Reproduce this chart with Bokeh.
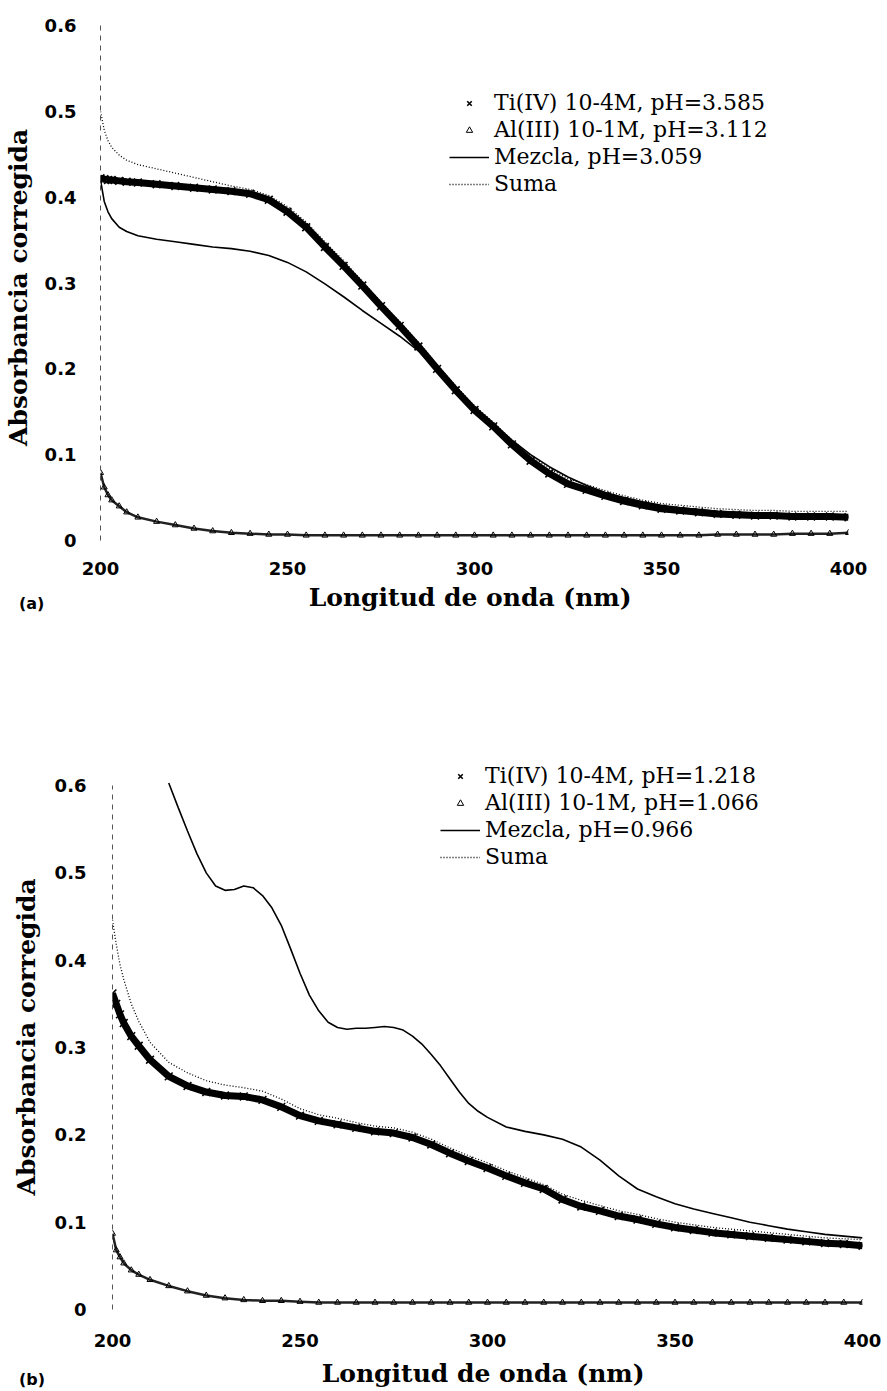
from bokeh.plotting import figure
from bokeh.models import Legend, LegendItem, FixedTicker, Range1d, Div
from bokeh.embed import file_html
from bokeh.resources import INLINE

# ---------------- data ----------------
wavelength = [200, 201, 202, 203, 205, 207, 210, 215, 220, 225, 230, 235, 240, 245, 250,
              255, 260, 265, 270, 275, 280, 285, 290, 295, 300, 305, 310, 315, 320, 325,
              330, 335, 340, 345, 350, 355, 360, 365, 370, 375, 380, 385, 390, 395, 400]

# panel (a)
ti_a = [0.422, 0.421, 0.420, 0.420, 0.419, 0.418, 0.417, 0.415, 0.413, 0.411, 0.409, 0.407,
        0.404, 0.397, 0.383, 0.365, 0.342, 0.320, 0.297, 0.273, 0.250, 0.226, 0.200, 0.175,
        0.152, 0.133, 0.112, 0.093, 0.078, 0.066, 0.059, 0.052, 0.046, 0.041, 0.037, 0.035,
        0.033, 0.031, 0.030, 0.029, 0.029, 0.028, 0.028, 0.028, 0.027]
al_a = [0.079, 0.062, 0.053, 0.047, 0.040, 0.033, 0.027, 0.022, 0.018, 0.014, 0.011, 0.009,
        0.008, 0.007, 0.007, 0.006, 0.006, 0.006, 0.006, 0.006, 0.006, 0.006, 0.006, 0.006,
        0.006, 0.006, 0.006, 0.006, 0.006, 0.006, 0.006, 0.006, 0.006, 0.006, 0.006, 0.006,
        0.006, 0.007, 0.007, 0.007, 0.007, 0.008, 0.008, 0.008, 0.009]
mezcla_a = [0.420, 0.395, 0.383, 0.375, 0.365, 0.360, 0.355, 0.351, 0.348, 0.345, 0.342, 0.340,
            0.337, 0.332, 0.324, 0.313, 0.299, 0.284, 0.268, 0.253, 0.238, 0.221, 0.198, 0.176,
            0.155, 0.136, 0.117, 0.100, 0.086, 0.074, 0.064, 0.056, 0.050, 0.045, 0.041, 0.038,
            0.036, 0.034, 0.033, 0.032, 0.031, 0.030, 0.030, 0.029, 0.029]
suma_a = [0.500, 0.478, 0.466, 0.458, 0.449, 0.443, 0.438, 0.433, 0.428, 0.423, 0.418, 0.413,
          0.409, 0.402, 0.389, 0.371, 0.348, 0.326, 0.302, 0.278, 0.255, 0.231, 0.205, 0.180,
          0.157, 0.138, 0.117, 0.099, 0.084, 0.072, 0.065, 0.058, 0.052, 0.047, 0.043, 0.041,
          0.039, 0.037, 0.036, 0.035, 0.035, 0.034, 0.034, 0.034, 0.034]
labels_a = ["Ti(IV) 10-4M, pH=3.585", "Al(III) 10-1M, pH=3.112", "Mezcla, pH=3.059", "Suma"]

# panel (b)
ti_b = [0.362, 0.350, 0.338, 0.328, 0.313, 0.302, 0.286, 0.267, 0.256, 0.249, 0.245, 0.244,
        0.240, 0.232, 0.222, 0.216, 0.212, 0.208, 0.204, 0.202, 0.197, 0.189, 0.179, 0.170,
        0.162, 0.153, 0.145, 0.138, 0.126, 0.118, 0.113, 0.107, 0.103, 0.098, 0.094, 0.091,
        0.088, 0.086, 0.084, 0.082, 0.080, 0.078, 0.076, 0.075, 0.073]
al_b = [0.087, 0.068, 0.060, 0.053, 0.045, 0.040, 0.034, 0.027, 0.021, 0.016, 0.013, 0.011,
        0.010, 0.010, 0.009, 0.008, 0.008, 0.008, 0.008, 0.008, 0.008, 0.008, 0.008, 0.008,
        0.008, 0.008, 0.008, 0.008, 0.008, 0.008, 0.008, 0.008, 0.008, 0.008, 0.008, 0.008,
        0.008, 0.008, 0.008, 0.008, 0.008, 0.008, 0.008, 0.008, 0.008]
suma_b = [0.446, 0.418, 0.395, 0.378, 0.350, 0.330, 0.306, 0.283, 0.271, 0.262, 0.257, 0.254,
          0.250, 0.241, 0.230, 0.223, 0.219, 0.214, 0.210, 0.208, 0.203, 0.195, 0.185, 0.176,
          0.168, 0.159, 0.151, 0.143, 0.132, 0.125, 0.119, 0.113, 0.109, 0.104, 0.100, 0.097,
          0.094, 0.092, 0.090, 0.088, 0.086, 0.084, 0.082, 0.081, 0.080]
mezcla_b_wavelength = [215, 217.5, 220, 222.5, 225, 227.5, 230, 232.5, 235, 237.5, 240, 242.5,
                       245, 247.5, 250, 252.5, 255, 257.5, 260, 262.5, 265, 267.5, 270, 272.5,
                       275, 277.5, 280, 282.5, 285, 287.5, 290, 292.5, 295, 297.5, 300, 305,
                       310, 315, 320, 325, 330, 335, 340, 345, 350, 355, 360, 365, 370, 375,
                       380, 385, 390, 395, 400]
mezcla_b = [0.603, 0.575, 0.548, 0.522, 0.500, 0.485, 0.480, 0.481, 0.485, 0.483, 0.474, 0.460,
            0.440, 0.413, 0.385, 0.360, 0.342, 0.329, 0.323, 0.321, 0.322, 0.322, 0.323, 0.324,
            0.323, 0.320, 0.313, 0.304, 0.292, 0.279, 0.264, 0.249, 0.236, 0.227, 0.220, 0.209,
            0.204, 0.200, 0.195, 0.186, 0.171, 0.153, 0.138, 0.129, 0.121, 0.115, 0.110, 0.105,
            0.100, 0.096, 0.092, 0.089, 0.086, 0.084, 0.082]
labels_b = ["Ti(IV) 10-4M, pH=1.218", "Al(III) 10-1M, pH=1.066", "Mezcla, pH=0.966", "Suma"]

x_ticks = [200, 250, 300, 350, 400]
y_ticks = [0, 0.1, 0.2, 0.3, 0.4, 0.5, 0.6]
y_tick_labels = ["0", "0.1", "0.2", "0.3", "0.4", "0.5", "0.6"]
x_title = "Longitud de onda  (nm)"
y_title = "Absorbancia  corregida"
panel_tags = ["(a)", "(b)"]

SERIF = "DejaVu Serif"
SANS = "DejaVu Sans"


def make_panel(ti, al, mez_wl, mez, suma, labels, g):
    p = figure(width=887, height=g["height"], output_backend="svg", toolbar_location=None,
               x_range=Range1d(200, 400), y_range=Range1d(0, g["ytop"]),
               min_border_left=g["left"], min_border_right=g["right"],
               min_border_top=g["top"], min_border_bottom=g["bottom"])
    p.outline_line_color = None
    p.grid.visible = False
    p.background_fill_color = "white"

    # Ti band: thick line with dense x markers
    p.line(wavelength, ti, line_color="black", line_width=7)
    r_ti = p.scatter(wavelength, ti, marker="x", size=11, line_color="black", line_width=1.6)
    # Al band
    p.line(wavelength, al, line_color="#222222", line_width=2.5)
    r_al = p.scatter(wavelength, al, marker="triangle", size=6, line_color="black",
                     fill_alpha=0, line_width=1)
    r_mez = p.line(mez_wl, mez, line_color="black", line_width=1.6)
    r_suma = p.line(wavelength, suma, line_color="black", line_width=1.3, line_dash="1 2")

    legend = Legend(items=[LegendItem(label=labels[0], renderers=[r_ti]),
                           LegendItem(label=labels[1], renderers=[r_al]),
                           LegendItem(label=labels[2], renderers=[r_mez]),
                           LegendItem(label=labels[3], renderers=[r_suma])],
                    location=g["legend"], orientation="vertical", padding=0, margin=0,
                    spacing=0, glyph_width=40, glyph_height=16, label_height=27,
                    label_standoff=5, label_text_font=SERIF, label_text_font_size="22px",
                    label_text_color="black",
                    border_line_color=None, background_fill_alpha=0)
    p.add_layout(legend)

    xa = p.xaxis[0]
    xa.ticker = FixedTicker(ticks=x_ticks)
    xa.axis_line_color = None
    xa.major_tick_line_color = None
    xa.minor_tick_line_color = None
    xa.major_label_text_font = SANS
    xa.major_label_text_font_style = "bold"
    xa.major_label_text_font_size = "18px"
    xa.major_label_text_color = "black"
    xa.major_label_standoff = g["xstand"]
    xa.axis_label = x_title
    xa.axis_label_text_font = SERIF
    xa.axis_label_text_font_style = "bold"
    xa.axis_label_text_font_size = "25px"
    xa.axis_label_text_color = "black"
    xa.axis_label_standoff = g["xlstand"]

    ya = p.yaxis[0]
    ya.ticker = FixedTicker(ticks=y_ticks)
    ya.major_label_overrides = {t: s for t, s in zip(y_ticks, y_tick_labels)}
    ya.bounds = (0, 0.6)
    ya.axis_line_color = "#555555"
    ya.axis_line_dash = "5 5"
    ya.axis_line_width = 1
    ya.major_tick_line_color = None
    ya.minor_tick_line_color = None
    ya.major_label_text_font = SANS
    ya.major_label_text_font_style = "bold"
    ya.major_label_text_font_size = "18px"
    ya.major_label_text_color = "black"
    ya.major_label_standoff = g["ystand"]
    ya.axis_label = y_title
    ya.axis_label_text_font = SERIF
    ya.axis_label_text_font_style = "bold"
    ya.axis_label_text_font_size = "25px"
    ya.axis_label_text_color = "black"
    ya.axis_label_standoff = g["ylstand"]
    return p


def make_tag(text, left, top):
    html = (f'<span style="font-family: \'{SANS}\'; font-weight: bold; font-size: 16px; '
            f'line-height: 18px; color: black;">{text}</span>')
    return Div(text=html, styles={"position": "absolute", "left": f"{left}px",
                                  "top": f"{top}px", "margin": "0", "padding": "0"})


geo_a = dict(height=700, ytop=0.6, left=100, right=39, top=25, bottom=160, legend=(349, 343),
             xstand=15, xlstand=5, ystand=18, ylstand=9)
geo_b = dict(height=691, ytop=0.6344, left=112, right=25, top=55, bottom=82, legend=(328, 439),
             xstand=18, xlstand=9, ystand=20, ylstand=11)

pa = make_panel(ti_a, al_a, wavelength, mezcla_a, suma_a, labels_a, geo_a)
pb = make_panel(ti_b, al_b, mezcla_b_wavelength, mezcla_b, suma_b, labels_b, geo_b)
tag_a = make_tag(panel_tags[0], 19, 595)
tag_b = make_tag(panel_tags[1], 19, 1371)

open("out.html", "w").write(file_html([pa, pb, tag_a, tag_b], INLINE))
